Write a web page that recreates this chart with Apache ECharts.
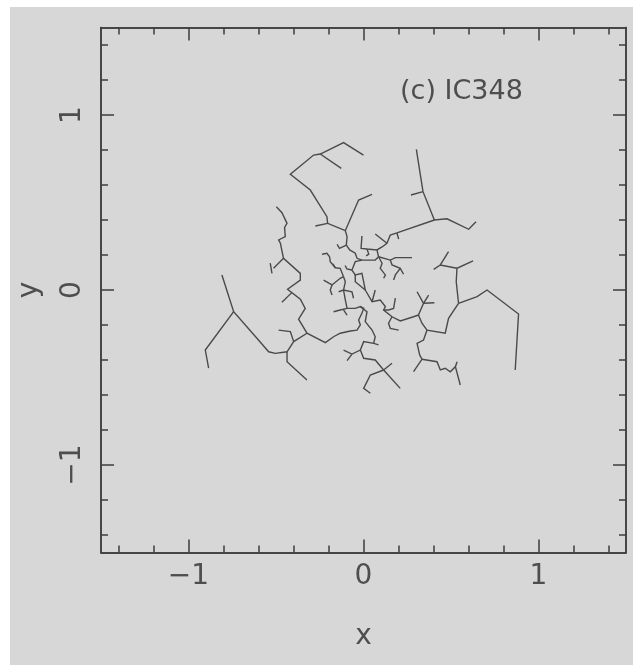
<!DOCTYPE html>
<html><head><meta charset="utf-8">
<script src="https://cdn.jsdelivr.net/npm/echarts@6/dist/echarts.min.js"></script>
<style>
html,body{margin:0;padding:0;background:#ffffff;}
#c{position:absolute;left:10px;top:7px;width:623px;height:658px;background:#d7d7d7;}
</style></head><body><div id="c"></div>
<script>
// ---- tick values ----
const majorTicks = [-1, 0, 1];
const minorTicks = [-1.4, -1.2, -0.8, -0.6, -0.4, -0.2, 0.2, 0.4, 0.6, 0.8, 1.2, 1.4];
const tickLabels = [-1, 0, 1];
const panelLabel = '(c) IC348';

// ---- minimum spanning tree edges (x, y) ----
const branchTopLeft = [[0.000,0.771],[-0.114,0.842],[-0.247,0.777],[-0.285,0.771],[-0.418,0.661],[-0.304,0.571],[-0.209,0.419],[-0.205,0.381],[-0.104,0.339],[-0.028,0.514],[0.049,0.547]];
const twigTopLeftA = [[-0.247,0.777],[-0.127,0.695]];
const twigTopLeftB = [[-0.205,0.381],[-0.275,0.366]];
const branchCentreSpine = [[-0.104,0.339],[-0.094,0.305],[-0.098,0.257],[-0.079,0.229],[-0.047,0.210],[-0.037,0.181],[-0.009,0.171]];
const twigSpineA = [[-0.098,0.257],[-0.137,0.238],[-0.151,0.261]];
const branchUpperLoop = [[-0.009,0.309],[-0.014,0.238],[0.020,0.234],[0.077,0.229],[0.106,0.246],[0.134,0.267],[0.153,0.314],[0.191,0.326],[0.405,0.400]];
const twigUpperA = [[0.134,0.267],[0.067,0.320]];
const twigUpperB = [[0.191,0.326],[0.201,0.291]];
const branchTopRight = [[0.302,0.804],[0.340,0.562],[0.405,0.400],[0.477,0.407],[0.601,0.347],[0.643,0.390]];
const twigTopRight = [[0.340,0.562],[0.271,0.543]];
const branchUpperMid = [[0.077,0.229],[0.086,0.190],[0.067,0.171],[-0.009,0.171]];
const branchUpperBar = [[0.086,0.190],[0.153,0.171],[0.182,0.185],[0.277,0.185]];
const twigUpperC = [[0.153,0.171],[0.163,0.143],[0.210,0.124],[0.229,0.090]];
const twigUpperD = [[0.210,0.124],[0.182,0.086],[0.172,0.057]];
const twigUpperE = [[0.086,0.190],[0.106,0.153],[0.096,0.124],[0.125,0.086],[0.115,0.067]];
const twigUpperF = [[0.020,0.234],[0.030,0.205],[0.015,0.195]];
const branchCentreLink = [[-0.009,0.171],[-0.047,0.162],[-0.066,0.114],[-0.047,0.086],[-0.009,0.095],[0.001,0.047],[0.010,0.000]];
const twigCentreA = [[-0.047,0.086],[-0.047,0.047],[0.010,0.000]];
const twigCentreB = [[-0.066,0.114],[-0.095,0.120],[-0.105,0.140]];
const branchRightInner = [[0.010,0.000],[0.049,-0.067],[0.096,-0.057],[0.125,-0.095],[0.115,-0.114],[0.163,-0.153],[0.210,-0.177],[0.286,-0.153],[0.314,-0.143]];
const twigRightA = [[0.049,-0.067],[0.067,0.000]];
const twigRightB = [[0.115,-0.114],[0.143,-0.114],[0.172,-0.105],[0.182,-0.047]];
const twigRightC = [[0.163,-0.153],[0.143,-0.190],[0.153,-0.219],[0.201,-0.229]];
const twigRightStar = [[0.314,-0.143],[0.343,-0.076],[0.306,-0.010]];
const twigRightStarB = [[0.343,-0.076],[0.372,-0.029]];
const twigRightStarC = [[0.343,-0.076],[0.405,-0.073]];
const branchRightOuter = [[0.314,-0.143],[0.334,-0.190],[0.363,-0.229],[0.467,-0.247],[0.486,-0.162],[0.543,-0.076]];
const branchFarRight = [[0.543,-0.076],[0.649,-0.038],[0.706,0.000],[0.886,-0.137],[0.867,-0.457]];
const branchRightUp = [[0.543,-0.076],[0.530,0.047],[0.534,0.124],[0.626,0.167]];
const twigRightUpA = [[0.401,0.118],[0.439,0.143],[0.534,0.124]];
const twigRightUpB = [[0.439,0.143],[0.486,0.219]];
const branchLowerRight = [[0.363,-0.229],[0.343,-0.286],[0.306,-0.305],[0.321,-0.371],[0.334,-0.396],[0.286,-0.467]];
const branchLowerRightTail = [[0.334,-0.396],[0.420,-0.410],[0.439,-0.457],[0.467,-0.447],[0.496,-0.467],[0.525,-0.438],[0.553,-0.543]];
const twigLowerRight = [[0.525,-0.438],[0.535,-0.410]];
const branchLeft = [[-0.498,0.476],[-0.466,0.442],[-0.437,0.381],[-0.451,0.358],[-0.447,0.305],[-0.485,0.286],[-0.475,0.267],[-0.457,0.181],[-0.361,0.095],[-0.361,0.057],[-0.434,0.004],[-0.361,-0.053],[-0.333,-0.105],[-0.371,-0.167],[-0.323,-0.247],[-0.218,-0.301],[-0.171,-0.267],[-0.133,-0.247],[-0.075,-0.234],[-0.037,-0.229],[-0.018,-0.200],[-0.028,-0.171],[-0.009,-0.133],[0.001,-0.105],[-0.018,-0.095],[-0.047,-0.105],[-0.094,-0.105],[-0.104,-0.057],[-0.114,0.000],[-0.104,0.047],[-0.114,0.076]];
const twigLeftA = [[-0.457,0.181],[-0.514,0.124]];
const twigLeftA2 = [[-0.533,0.153],[-0.523,0.095]];
const twigLeftB = [[-0.410,-0.015],[-0.466,-0.070]];
const branchLeftLower = [[-0.323,-0.247],[-0.399,-0.295],[-0.437,-0.353],[-0.504,-0.362],[-0.542,-0.353],[-0.609,-0.276],[-0.742,-0.124],[-0.809,0.086]];
const twigLeftC = [[-0.399,-0.295],[-0.418,-0.238],[-0.485,-0.229]];
const branchFarLeft = [[-0.742,-0.124],[-0.904,-0.343],[-0.885,-0.447]];
const branchLeftTail = [[-0.437,-0.353],[-0.437,-0.410],[-0.323,-0.514]];
const clusterWestA = [[-0.237,0.204],[-0.209,0.210],[-0.194,0.190],[-0.190,0.162],[-0.161,0.127],[-0.133,0.124],[-0.114,0.076]];
const clusterWestB = [[-0.228,0.057],[-0.180,0.029],[-0.133,0.067],[-0.114,0.076]];
const twigWestC = [[-0.180,0.029],[-0.190,0.000],[-0.180,-0.029]];
const twigWestD = [[-0.142,-0.010],[-0.114,0.000],[-0.066,-0.010],[-0.057,-0.047]];
const twigWestE = [[-0.171,-0.124],[-0.133,-0.114],[-0.094,-0.105]];
const twigWestF = [[-0.114,-0.114],[-0.094,-0.143]];
const twigWestG = [[-0.161,0.127],[-0.175,0.150]];
const branchLowerMid = [[-0.018,-0.095],[0.020,-0.124],[0.010,-0.181],[0.049,-0.229],[0.067,-0.267],[0.058,-0.305],[0.086,-0.314]];
const branchLowerLink = [[0.058,-0.305],[0.001,-0.295],[-0.018,-0.343],[-0.066,-0.366],[-0.114,-0.343]];
const twigLowerA = [[-0.066,-0.366],[-0.094,-0.404]];
const branchLowerStar = [[-0.018,-0.343],[0.001,-0.390],[0.067,-0.400],[0.115,-0.457],[0.210,-0.562]];
const twigLowerB = [[0.115,-0.457],[0.163,-0.419]];
const twigLowerC = [[0.115,-0.457],[0.039,-0.486],[0.001,-0.562],[0.039,-0.590]];

const treeEdges = [branchTopLeft, twigTopLeftA, twigTopLeftB, branchCentreSpine, twigSpineA,
  branchUpperLoop, twigUpperA, twigUpperB, branchTopRight, twigTopRight, branchUpperMid,
  branchUpperBar, twigUpperC, twigUpperD, twigUpperE, twigUpperF, branchCentreLink, twigCentreA,
  twigCentreB, branchRightInner, twigRightA, twigRightB, twigRightC, twigRightStar, twigRightStarB,
  twigRightStarC, branchRightOuter, branchFarRight, branchRightUp, twigRightUpA, twigRightUpB,
  branchLowerRight, branchLowerRightTail, twigLowerRight, branchLeft, twigLeftA, twigLeftA2,
  twigLeftB, branchLeftLower, twigLeftC, branchFarLeft, branchLeftTail, clusterWestA,
  clusterWestB, twigWestC, twigWestD, twigWestE, twigWestF, twigWestG, branchLowerMid, branchLowerLink,
  twigLowerA, branchLowerStar, twigLowerB, twigLowerC];

const lineCol = '#3e3e3e';
const textCol = '#4e4e4e';
const font = "'DejaVu Sans', sans-serif";
function fmt(v) { return v < 0 ? '\u2212' + Math.abs(v) : String(v); }
function ax(pos, ticks, len, label, extra) {
  return Object.assign({
    type: 'value', min: -1.5, max: 1.5, position: pos,
    axisLine: { show: true, onZero: false, lineStyle: { color: lineCol, width: 1.5 } },
    axisTick: { show: true, inside: true, length: len, customValues: ticks, lineStyle: { color: lineCol, width: 1.5 } },
    axisLabel: label || { show: false },
    splitLine: { show: false }
  }, extra || {});
}
const xLabel = { show: true, customValues: tickLabels, formatter: fmt, fontSize: 28, fontFamily: font, color: textCol, margin: 10 };
const yLabel = { show: true, customValues: tickLabels, formatter: fmt, fontSize: 28, fontFamily: font, color: textCol, margin: 14, rotate: 90 };

const chart = echarts.init(document.getElementById('c'), null, { renderer: 'canvas' });
chart.setOption({
  animation: false,
  backgroundColor: 'transparent',
  title: { text: panelLabel, left: 385, top: 66, textStyle: { fontFamily: font, fontSize: 27, fontWeight: 'normal', color: textCol } },
  grid: { left: 91, top: 20.5, width: 525, height: 525, outerBoundsMode: 'none', containLabel: false },
  xAxis: [
    ax('bottom', majorTicks, 13, xLabel, { name: 'x', nameLocation: 'middle', nameGap: 70, nameTextStyle: { fontSize: 28, fontFamily: font, color: textCol } }),
    ax('bottom', minorTicks, 7),
    ax('top', majorTicks, 13),
    ax('top', minorTicks, 7)
  ],
  yAxis: [
    ax('left', majorTicks, 13, yLabel, { name: 'y', nameLocation: 'middle', nameGap: 57, nameRotate: 90, nameTextStyle: { fontSize: 28, fontFamily: font, color: textCol } }),
    ax('left', minorTicks, 7),
    ax('right', majorTicks, 13),
    ax('right', minorTicks, 7)
  ],
  series: [{
    type: 'lines', coordinateSystem: 'cartesian2d', polyline: true,
    xAxisIndex: 0, yAxisIndex: 0, silent: true,
    lineStyle: { color: '#4a4a4a', width: 1.4, opacity: 1 },
    data: treeEdges.map(c => ({ coords: c }))
  }]
});
</script></body></html>
